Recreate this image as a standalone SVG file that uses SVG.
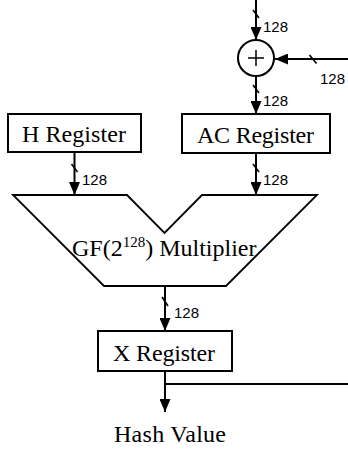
<svg xmlns="http://www.w3.org/2000/svg" width="348" height="449" viewBox="0 0 348 449">
<style>
.box{fill:#fff;stroke:#000;stroke-width:2}
.ln{fill:none;stroke:#000;stroke-width:2}
.sl{fill:none;stroke:#000;stroke-width:1.6}
.t{font-family:"Liberation Serif","Times New Roman",serif;font-size:24px;fill:#000}
.n{font-family:"Liberation Sans",Arial,sans-serif;font-size:15px;fill:#000}
</style>
<defs>
<marker id="ah" markerUnits="userSpaceOnUse" markerWidth="13" markerHeight="11" viewBox="0 0 13 11" refX="13" refY="5.5" orient="auto">
<path d="M0,0 L13,5.5 L0,11 Z" fill="#000"/>
</marker>
</defs>
<rect width="348" height="449" fill="#fff"/>
<g id="connectors">
<path class="ln" d="M256 0 V40" marker-end="url(#ah)"/>
<path class="ln" d="M348 59 H275" marker-end="url(#ah)"/>
<path class="ln" d="M256 76 V114" marker-end="url(#ah)"/>
<path class="ln" d="M74.5 152 V195" marker-end="url(#ah)"/>
<path class="ln" d="M256 153 V195" marker-end="url(#ah)"/>
<path class="ln" d="M165 286 V331" marker-end="url(#ah)"/>
<path class="ln" d="M165 371 V412" marker-end="url(#ah)"/>
<path class="ln" d="M165 384 H348"/>
<path class="sl" d="M253 10 L259 18"/>
<path class="sl" d="M309.5 55 L316.5 63.5"/>
<path class="sl" d="M253 85 L259 93"/>
<path class="sl" d="M71.5 164 L77.5 172"/>
<path class="sl" d="M253 164 L259 172"/>
<path class="sl" d="M162 297 L168 306"/>
<text class="n" x="263" y="32">128</text>
<text class="n" x="320" y="84">128</text>
<text class="n" x="263" y="106">128</text>
<text class="n" x="82" y="185">128</text>
<text class="n" x="263" y="185">128</text>
<text class="n" x="174" y="318">128</text>
</g>
<g id="xor">
<circle cx="256" cy="58" r="18" fill="#fff" stroke="#000" stroke-width="2"/>
<path d="M248 58 H264 M256 50 V66" stroke="#000" stroke-width="1.5"/>
</g>
<g id="h-register">
<rect class="box" x="8" y="114" width="133" height="38"/>
<text class="t" x="22" y="142" textLength="104">H Register</text>
</g>
<g id="ac-register">
<rect class="box" x="182" y="114" width="148" height="39"/>
<text class="t" x="197" y="143" textLength="117">AC Register</text>
</g>
<g id="multiplier">
<polygon points="13,195 127,195 164.5,233 202,195 317,195 226,286 104,286" fill="#fff" stroke="#000" stroke-width="1.8"/>
<text class="t" x="72" y="256">GF(2<tspan font-size="15" dy="-9">128</tspan><tspan dy="9">) Multiplier</tspan></text>
</g>
<g id="x-register">
<rect class="box" x="98" y="331" width="134" height="40"/>
<text class="t" x="113" y="361" textLength="102">X Register</text>
</g>
<g id="hash-value">
<text class="t" x="114" y="442" textLength="112">Hash Value</text>
</g>
</svg>
